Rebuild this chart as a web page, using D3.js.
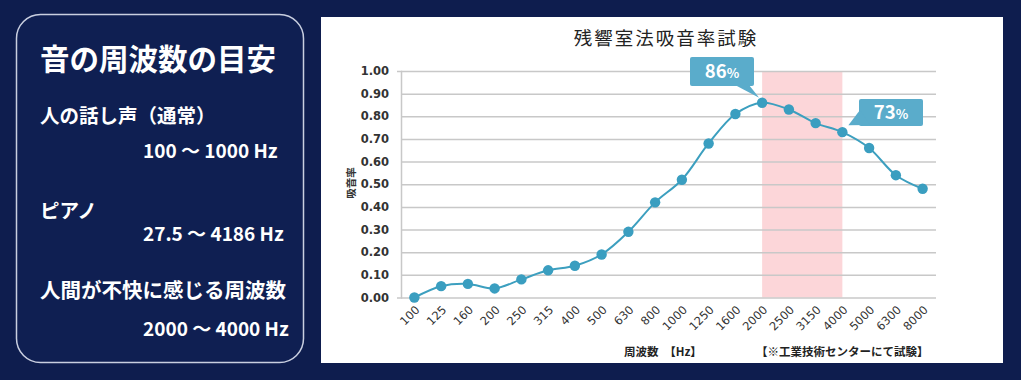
<!DOCTYPE html>
<html>
<head>
<meta charset="utf-8">
<script src="https://cdn.jsdelivr.net/npm/d3@7"></script>
<style>
body{margin:0;background:#0e1d4e;}
svg{display:block;}
</style>
</head>
<body>
<script>
const width=1021;
const height=380;

// data
const freqs=['100','125','160','200','250','315','400','500','630','800','1000','1250','1600','2000','2500','3150','4000','5000','6300','8000'];
const absorption=[0.00,0.05,0.06,0.04,0.08,0.12,0.14,0.19,0.29,0.42,0.52,0.68,0.81,0.86,0.83,0.77,0.73,0.66,0.54,0.48];
const yTicks=[0,0.1,0.2,0.3,0.4,0.5,0.6,0.7,0.8,0.9,1.0];
const bandFrom='2000';
const bandTo='4000';
const callouts=[{freq:'2000',num:'86'},{freq:'4000',num:'73'}];
const panelTitle='音の周波数の目安';
const panelRows=[
  {label:'人の話し声（通常）',range:'100 ～ 1000 Hz'},
  {label:'ピアノ',range:'27.5 ～ 4186 Hz'},
  {label:'人間が不快に感じる周波数',range:'2000 ～ 4000 Hz'}
];

const jp="'Noto Sans CJK JP','Noto Sans',sans-serif";
const svg=d3.select('body').append('svg').attr('width',width).attr('height',height);

svg.append('rect').attr('width',width).attr('height',height).attr('fill','#0e1d4e');

// left panel
svg.append('rect').attr('x',16.5).attr('y',14.5).attr('width',287).attr('height',348)
  .attr('rx',24).attr('fill','#0f1f52').attr('stroke','#c9cfe0').attr('stroke-width',1.5);
svg.append('text').text(panelTitle).attr('x',40).attr('y',70)
  .style('font-family',jp).style('font-weight','700').style('font-size','29.5px').attr('fill','#fff');
const rowY=[[123,158],[218,241],[298,336]];
const labelSize=[19.5,19.5,20.5];
panelRows.forEach((r,i)=>{
  svg.append('text').text(r.label).attr('x',40).attr('y',rowY[i][0])
    .style('font-family',jp).style('font-weight','700').style('font-size',labelSize[i]+'px').attr('fill','#fff');
  svg.append('text').text(r.range).attr('x',143).attr('y',rowY[i][1])
    .style('font-family',jp).style('font-weight','700').style('font-size','19px').attr('fill','#fff');
});

// chart panel
svg.append('rect').attr('x',321).attr('y',17).attr('width',682).attr('height',346).attr('fill','#fff');

const x=d3.scaleBand().domain(freqs).range([401,936]);
const y=d3.scaleLinear().domain([0,1]).range([297.5,71]);
const cx=d=>x(d)+x.bandwidth()/2;

svg.append('text').text('残響室法吸音率試験').attr('x',666).attr('y',45).attr('text-anchor','middle')
  .style('font-family',jp).style('font-size','18.5px').attr('fill','#222').attr('letter-spacing','2');

// highlight band
svg.append('rect').attr('x',cx(bandFrom)).attr('y',y(1)).attr('width',cx(bandTo)-cx(bandFrom))
  .attr('height',y(0)-y(1)).attr('fill','#fcd6d9');

// gridlines + y axis
const yAxis=svg.append('g').attr('transform','translate(401,0)')
  .call(d3.axisLeft(y).tickValues(yTicks).tickFormat(d3.format('.2f')).tickSize(4).tickPadding(8));
yAxis.select('.domain').attr('stroke','#c8c8c8').attr('stroke-width',1.5);
yAxis.selectAll('.tick line').attr('x2',535).attr('stroke','#c8c8c8').attr('stroke-width',1.5);
yAxis.selectAll('.tick text').style('font-family','DejaVu Sans').style('font-size','11.5px').style('font-weight','600').attr('fill','#333');

svg.append('text').text('吸音率').attr('transform','translate(355,183) rotate(-90)').attr('text-anchor','middle')
  .style('font-family',jp).style('font-weight','700').style('font-size','10.5px').attr('fill','#333');

// x axis labels
const xAxis=svg.append('g').attr('transform','translate(0,297.5)')
  .call(d3.axisBottom(x).tickSize(0).tickPadding(0));
xAxis.select('.domain').remove();
xAxis.selectAll('.tick text')
  .attr('text-anchor','end').attr('dy',0).attr('y',0)
  .attr('transform','translate(6,13) rotate(-45)')
  .style('font-family','DejaVu Sans').style('font-size','11.5px').attr('fill','#333');

svg.append('text').text('周波数　【Hz】').attr('x',624).attr('y',356)
  .style('font-family',jp).style('font-weight','700').style('font-size','11.5px').attr('fill','#222');
svg.append('text').text('【※工業技術センターにて試験】').attr('x',756).attr('y',356)
  .style('font-family',jp).style('font-weight','700').style('font-size','11.5px').attr('fill','#222');

// line
const line=d3.line().x((d,i)=>cx(freqs[i])).y(d=>y(d)).curve(d3.curveCatmullRom.alpha(0.5));
svg.append('path').datum(absorption).attr('d',line).attr('fill','none').attr('stroke','#3c9fbf').attr('stroke-width',2);
svg.selectAll('circle.pt').data(absorption).enter().append('circle').attr('class','pt')
  .attr('cx',(d,i)=>cx(freqs[i])).attr('cy',d=>y(d)).attr('r',5.2).attr('fill','#3a9ec0');

// callouts
const c1=callouts[0], c2=callouts[1];
const p1=[cx(c1.freq),y(absorption[freqs.indexOf(c1.freq)])];
const p2=[cx(c2.freq),y(absorption[freqs.indexOf(c2.freq)])];
const boxColor='#5aaccb';
function callout(bx,by,bw,bh,tail,num){
  svg.append('rect').attr('x',bx).attr('y',by).attr('width',bw).attr('height',bh).attr('rx',2).attr('fill',boxColor);
  svg.append('path').attr('d',tail).attr('fill',boxColor);
  const t=svg.append('text').attr('x',bx+bw/2).attr('y',by+bh/2+6.5).attr('text-anchor','middle')
    .style('font-family',jp).style('font-weight','700').attr('fill','#fff');
  t.append('tspan').text(num).style('font-size','18.5px');
  t.append('tspan').text('%').style('font-size','13px');
}
callout(690,57,64,29,`M735,85L${p1[0]-3},${p1[1]-5}L749,85Z`,c1.num);
callout(859,99,64,27,`M860,110L${p2[0]+6},${p2[1]-7}L870,125Z`,c2.num);
</script>
</body>
</html>
